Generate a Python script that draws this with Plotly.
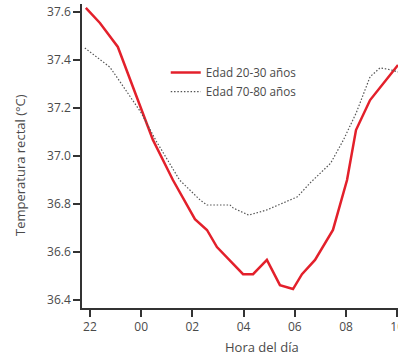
import plotly.graph_objects as go

# Hours (22 = 22:00, 24 = 00:00, ... 34 = 10:00)
young_hours = [21.84, 22.39, 23.09, 24.46, 25.24, 26.1, 26.57, 26.96, 27.98, 28.37,
               28.91, 29.42, 29.93, 30.28, 30.79, 31.49, 32.04, 32.39, 32.94, 34.03]
young_temp = [37.617, 37.554, 37.454, 37.067, 36.90, 36.737, 36.692, 36.621, 36.508, 36.508,
              36.567, 36.462, 36.446, 36.508, 36.567, 36.692, 36.90, 37.108, 37.233, 37.379]

old_hours = [21.8, 22.78, 23.17, 24.0, 24.6, 25.5, 26.3, 26.57, 27.47, 27.6, 28.2,
             28.9, 30.1, 30.6, 31.4, 31.9, 32.4, 32.94, 33.33, 33.7, 34.03]
old_temp = [37.45, 37.37, 37.31, 37.18, 37.06, 36.90, 36.817, 36.796, 36.796, 36.783, 36.754,
            36.775, 36.83, 36.888, 36.97, 37.067, 37.18, 37.33, 37.367, 37.36, 37.35]

x_tickvals = [22, 24, 26, 28, 30, 32, 34]
x_ticktext = ["22", "00", "02", "04", "06", "08", "10"]
y_tickvals = [36.4, 36.6, 36.8, 37.0, 37.2, 37.4, 37.6]
y_ticktext = ["36.4", "36.6", "36.8", "37.0", "37.2", "37.4", "37.6"]

FONT = "Open Sans"
TXT = "#4a4a4a"

fig = go.Figure()
fig.add_trace(go.Scatter(x=young_hours, y=young_temp, mode="lines", name="Edad 20-30 años",
                         line=dict(color="#e3202b", width=2.5)))
fig.add_trace(go.Scatter(x=old_hours, y=old_temp, mode="lines", name="Edad 70-80 años",
                         line=dict(color="#555555", width=1.2, dash="1.5px,1.8px")))

fig.update_layout(
    template="none",
    width=398, height=357,
    margin=dict(l=82, r=0, t=4, b=49, autoexpand=False),
    paper_bgcolor="white", plot_bgcolor="white",
    font=dict(family=FONT, size=12, color=TXT),
    showlegend=True,
    legend=dict(x=0.265, y=0.822, xanchor="left", yanchor="top",
                bgcolor="rgba(0,0,0,0)", font=dict(size=11.7, color=TXT),
                tracegroupgap=0, itemwidth=30),
    xaxis=dict(range=[21.69, 34.03], tickvals=x_tickvals, ticktext=x_ticktext, automargin=False,
               ticklabeloverflow="allow",
               showgrid=False, zeroline=False, showline=True, linecolor="#333333", linewidth=1.5,
               ticks="outside", ticklen=7, tickwidth=1.5, tickcolor="#333333",
               tickfont=dict(size=12, color=TXT)),
    yaxis=dict(range=[36.367, 37.633], tickvals=y_tickvals, ticktext=y_ticktext, automargin=False,
               ticklabeloverflow="allow",
               showgrid=False, zeroline=False, showline=True, linecolor="#333333", linewidth=1.5,
               ticks="outside", ticklen=7, tickwidth=1.5, tickcolor="#333333",
               tickfont=dict(size=12, color=TXT)),
)

fig.add_annotation(text="Hora del día", xref="paper", yref="paper",
                   x=(262 - 82) / 316, y=-(347 - 308) / 304, xanchor="center", yanchor="middle",
                   showarrow=False, font=dict(size=13, color=TXT, family=FONT))
fig.add_annotation(text="Temperatura rectal (°C)", xref="paper", yref="paper",
                   x=-(82 - 20) / 316, y=(308 - 165) / 304, xanchor="center", yanchor="middle",
                   textangle=-90, showarrow=False, font=dict(size=13, color=TXT, family=FONT))

fig.write_html("out.html", config={"displayModeBar": False},
               post_script="document.body.style.margin='0';document.body.style.overflow='hidden';")
